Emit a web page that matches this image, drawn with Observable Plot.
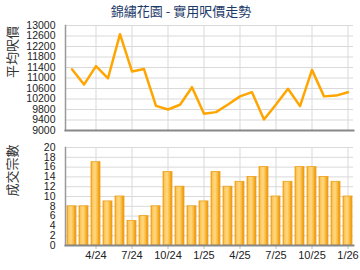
<!DOCTYPE html>
<html>
<head>
<meta charset="utf-8">
<script src="https://cdn.jsdelivr.net/npm/d3@7"></script>
<script src="https://cdn.jsdelivr.net/npm/@observablehq/plot@0.6"></script>
<style>
  html, body { margin: 0; padding: 0; background: #fff; }
  #wrap { width: 360px; height: 270px; overflow: hidden; position: relative; }
  #title { height: 20px; line-height: 22px; text-align: center; font-family: "Noto Sans CJK TC", sans-serif; font-size: 13px; color: #1d3b69; padding-left: 2px; }
  svg { display: block; }
</style>
</head>
<body>
<div id="wrap">
  <div id="title">錦繡花園 - 實用呎價走勢</div>
  <div id="topChart"></div>
  <div id="bottomChart"></div>
</div>
<script>
const months = ["2/24","3/24","4/24","5/24","6/24","7/24","8/24","9/24","10/24","11/24","12/24","1/25",
                "2/25","3/25","4/25","5/25","6/25","7/25","8/25","9/25","10/25","11/25","12/25","1/26"];
const prices = [11330, 10750, 11450, 10990, 12670, 11250, 11340, 9940, 9800, 9980, 10650, 9640,
                9700, 9990, 10300, 10460, 9420, 9990, 10590, 9930, 11310, 10300, 10330, 10460];
const counts = [8, 8, 17, 9, 10, 5, 6, 8, 15, 12, 8, 9, 15, 12, 13, 14, 16, 10, 13, 16, 16, 14, 13, 10];
const tickMonths = ["4/24","7/24","10/24","1/25","4/25","7/25","10/25","1/26"];
const priceTicks = [9000, 9400, 9800, 10200, 10600, 11000, 11400, 11800, 12200, 12600, 13000];
const countTicks = [0, 2, 4, 6, 8, 10, 12, 14, 16, 18, 20];

const priceData = months.map((m, i) => ({month: m, price: prices[i]}));
const countData = months.map((m, i) => ({month: m, count: counts[i]}));

const font = "Liberation Sans, Arial, sans-serif";
const cjk = "Noto Sans CJK TC, sans-serif";
const xScale = {type: "band", domain: months, paddingInner: 0.28, paddingOuter: 0.14, axis: null};
const gridColor = "#d9d9d9";
const plain = d => String(d);

const priceChart = Plot.plot({
  width: 360, height: 118,
  marginLeft: 65, marginRight: 7, marginTop: 5, marginBottom: 8,
  style: {fontFamily: font, color: "#222", background: "transparent"},
  x: xScale,
  y: {domain: [9000, 13000], axis: null},
  marks: [
    Plot.gridY(priceTicks, {stroke: gridColor, strokeOpacity: 1}),
    Plot.gridX(tickMonths, {stroke: gridColor, strokeOpacity: 1}),
    Plot.axisY({ticks: priceTicks, tickFormat: plain, tickSize: 0, tickPadding: 10, fontSize: 10.5, label: null, fill: "#222"}),
    Plot.text(["平均呎價"], {frameAnchor: "left", dx: -53, rotate: -90, fontSize: 13, fill: "#333", fontFamily: cjk}),
    Plot.frame({anchor: "left", stroke: "#999", strokeWidth: 1.5}),
    Plot.frame({anchor: "bottom", stroke: "#888", strokeWidth: 2}),
    Plot.line(priceData, {x: "month", y: "price", stroke: "#ffa500", strokeWidth: 2.5})
  ]
});

const countChart = Plot.plot({
  width: 360, height: 132,
  marginLeft: 65, marginRight: 7, marginTop: 9, marginBottom: 25,
  style: {fontFamily: font, color: "#222", background: "transparent"},
  x: xScale,
  y: {domain: [0, 20], axis: null},
  marks: [
    Plot.gridY(countTicks, {stroke: gridColor, strokeOpacity: 1}),
    Plot.gridX(tickMonths, {stroke: gridColor, strokeOpacity: 1}),
    Plot.axisY({ticks: countTicks, tickFormat: plain, tickSize: 0, tickPadding: 10, fontSize: 10.5, label: null, fill: "#222"}),
    Plot.axisX({ticks: tickMonths, tickSize: 4, tickPadding: 2, fontSize: 11, label: null, stroke: "#bbb", fill: "#222"}),
    Plot.text(["成交宗數"], {frameAnchor: "left", dx: -53, rotate: -90, fontSize: 13, fill: "#333", fontFamily: cjk}),
    Plot.barY(countData, {x: "month", y: "count", fill: "url(#barGrad)", stroke: "#eda11f", strokeWidth: 0.8}),
    Plot.frame({anchor: "left", stroke: "#999", strokeWidth: 1.5}),
    Plot.frame({anchor: "bottom", stroke: "#888", strokeWidth: 2})
  ]
});

const defs = d3.select(countChart).insert("defs", ":first-child");
const grad = defs.append("linearGradient").attr("id", "barGrad").attr("x1", "0").attr("x2", "1").attr("y1", "0").attr("y2", "0");
[["0%", "#f0a018"], ["18%", "#ffc95a"], ["45%", "#ffd886"], ["70%", "#fbbd45"], ["85%", "#f2a41c"], ["100%", "#e99a10"]]
  .forEach(([o, c]) => grad.append("stop").attr("offset", o).attr("stop-color", c));

document.getElementById("topChart").appendChild(priceChart);
document.getElementById("bottomChart").appendChild(countChart);
</script>
</body>
</html>
